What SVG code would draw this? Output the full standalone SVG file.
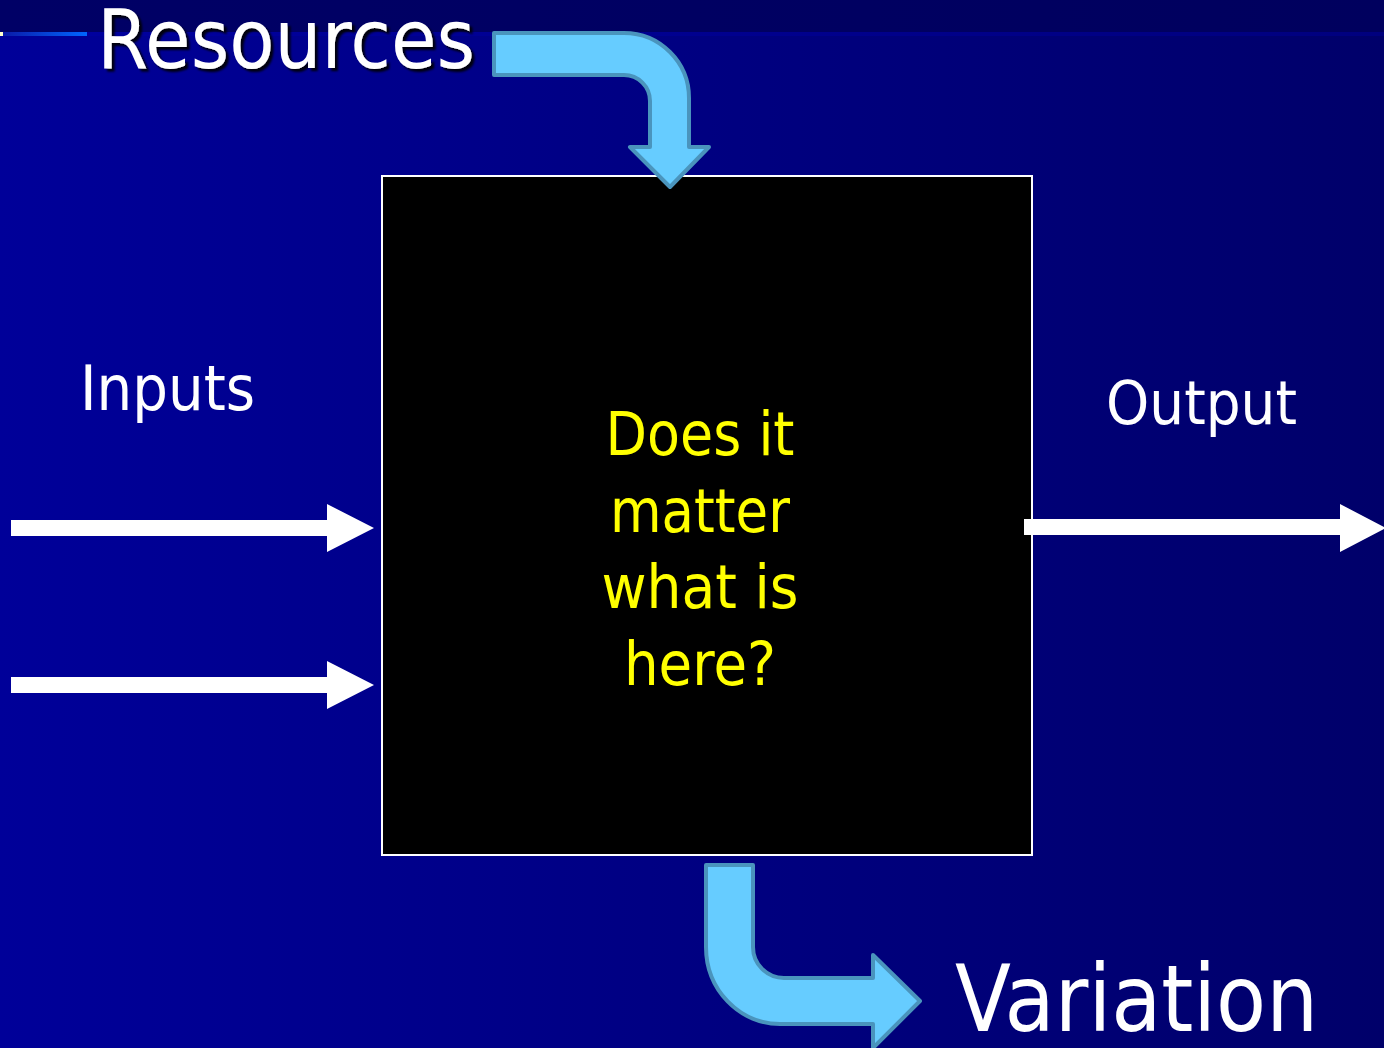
<svg xmlns="http://www.w3.org/2000/svg" width="1384" height="1048" viewBox="0 0 1384 1048">
  <defs>
    <linearGradient id="bodyGrad" x1="0" y1="0" x2="1" y2="0">
      <stop offset="0" stop-color="#000099"/>
      <stop offset="1" stop-color="#00006a"/>
    </linearGradient>
    <linearGradient id="bandGrad" x1="0" y1="0" x2="1" y2="0">
      <stop offset="0" stop-color="#000066"/>
      <stop offset="1" stop-color="#00005e"/>
    </linearGradient>
    <linearGradient id="ruleGrad" x1="0" y1="0" x2="1" y2="0">
      <stop offset="0" stop-color="#0000a0"/>
      <stop offset="1" stop-color="#00007e"/>
    </linearGradient>
    <linearGradient id="accentGrad" x1="0" y1="0" x2="1" y2="0">
      <stop offset="0" stop-color="#0a1aa8"/>
      <stop offset="1" stop-color="#0066ff"/>
    </linearGradient>
    <filter id="titleShadow" x="-5%" y="-20%" width="110%" height="140%">
      <feDropShadow dx="3" dy="3" stdDeviation="1.2" flood-color="#000000" flood-opacity="0.9"/>
    </filter>
    <style>
      .label { font-family: "DejaVu Sans", "Liberation Sans", sans-serif; fill: #ffffff; }
      .question { font-family: "DejaVu Sans", "Liberation Sans", sans-serif; fill: #ffff00; font-size: 60px; text-anchor: middle; }
      .flow { fill: #ffffff; }
      .bent { fill: #66ccff; stroke: #4a94bd; stroke-width: 4; stroke-linejoin: round; }
    </style>
  </defs>

  <!-- slide background -->
  <rect x="0" y="0" width="1384" height="1048" fill="url(#bodyGrad)"/>
  <rect x="0" y="0" width="1384" height="32" fill="url(#bandGrad)"/>
  <rect x="0" y="32" width="1384" height="4" fill="url(#ruleGrad)"/>
  <rect x="3" y="32" width="84" height="4" fill="url(#accentGrad)"/>
  <rect x="0" y="32" width="3" height="4" fill="#ffffcc"/>

  <!-- central process box -->
  <g id="process">
    <rect x="382" y="176" width="650" height="679" fill="#000000" stroke="#ffffff" stroke-width="2"/>
    <text class="question" x="700" y="455" textLength="189" lengthAdjust="spacingAndGlyphs">Does it</text>
    <text class="question" x="700" y="532" textLength="180" lengthAdjust="spacingAndGlyphs">matter</text>
    <text class="question" x="700" y="608" textLength="197" lengthAdjust="spacingAndGlyphs">what is</text>
    <text class="question" x="700" y="685" textLength="152" lengthAdjust="spacingAndGlyphs">here?</text>
  </g>

  <g id="resources">
    <text class="label" x="97" y="68" font-size="82" textLength="378" lengthAdjust="spacingAndGlyphs" filter="url(#titleShadow)">Resources</text>
  </g>

  <g id="inputs">
    <text class="label" x="80" y="410" font-size="63" textLength="175" lengthAdjust="spacingAndGlyphs">Inputs</text>
  </g>

  <g id="output">
    <text class="label" x="1106" y="424" font-size="60" textLength="191" lengthAdjust="spacingAndGlyphs">Output</text>
  </g>

  <g id="variation">
    <text class="label" x="955" y="1031" font-size="92" textLength="363" lengthAdjust="spacingAndGlyphs">Variation</text>
  </g>

  <!-- connectors -->
  <g id="connectors">
    <path class="flow" d="M11 520 L327 520 L327 504 L374 528 L327 552 L327 536 L11 536 Z"/>
    <path class="flow" d="M11 677 L327 677 L327 661 L374 685 L327 709 L327 693 L11 693 Z"/>
    <path class="flow" d="M1024 519 L1340 519 L1340 504 L1386 528 L1340 552 L1340 535 L1024 535 Z"/>
    <path class="bent" d="M494 33 L624 33 A65 65 0 0 1 689 98 L689 147 L709 147 L670 187 L630 147 L650 147 L650 101 A26 26 0 0 0 624 75 L494 75 Z"/>
    <path class="bent" d="M706 865 L753 865 L753 947 A31 31 0 0 0 784 978 L873 978 L873 955 L920 1001 L873 1048 L873 1024 L780 1024 A74 77 0 0 1 706 947 Z"/>
  </g>
</svg>
